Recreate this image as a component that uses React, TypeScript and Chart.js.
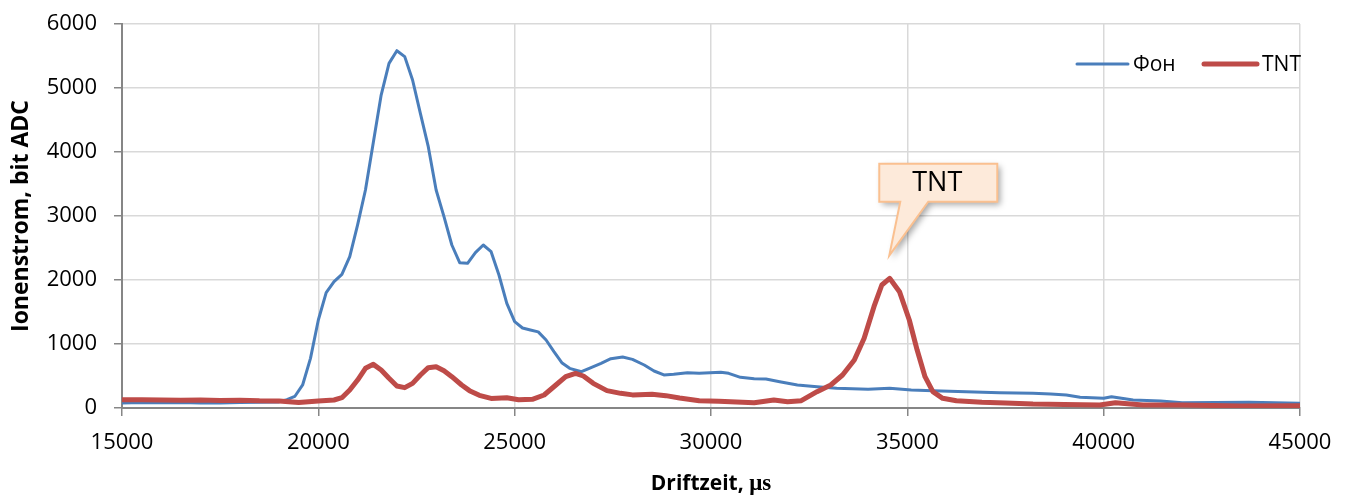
import React, { useEffect, useRef } from 'react';
import { Chart, registerables } from 'chart.js';

Chart.register(...registerables);

const seriesNames = ['Фон', 'TNT'];
const xTitle = 'Driftzeit, ';
const xTitleUnit = 'μs';
const yTitle = 'Ionenstrom, bit ADC';
const xMin = 15000;
const xMax = 45000;
const xStep = 5000;
const yMin = 0;
const yMax = 6000;
const yStep = 1000;

const fonTimes = [
  15000, 15500, 16000, 16500, 17000, 17500, 18000, 18500, 19000, 19200, 19400, 19600, 19800,
  20000, 20200, 20400, 20600, 20800, 21000, 21200, 21400, 21600, 21800, 22000, 22200, 22400,
  22600, 22800, 23000, 23200, 23400, 23600, 23800, 24000, 24200, 24400, 24600, 24800, 25000,
  25200, 25400, 25600, 25800, 26000, 26200, 26400, 26700, 26900, 27200, 27450, 27750, 28000,
  28300, 28550, 28800, 29050, 29400, 29700, 30250, 30450, 30750, 31100, 31400, 31750, 32200,
  32700, 33200, 34000, 34550, 35100, 35650, 36500, 37350, 38200, 38650, 39050, 39400, 40000,
  40200, 40750, 41450, 42000, 43700, 45000,
];
const fonValues = [
  80, 85, 82, 85, 78, 80, 85, 90, 95, 130, 180, 360, 776,
  1375, 1802, 1974, 2089, 2365, 2860, 3406, 4150, 4890, 5385, 5583, 5490, 5125,
  4600, 4083, 3406, 2990, 2547, 2271, 2260, 2427, 2547, 2443, 2078, 1635, 1349,
  1250, 1219, 1190, 1062, 880, 708, 620, 567, 620, 698, 770, 797, 760,
  672, 578, 516, 526, 552, 542, 557, 542, 479, 458, 453, 411, 359,
  333, 307, 292, 307, 281, 271, 255, 240, 229, 219, 203, 167, 151,
  177, 125, 109, 83, 89, 73,
];

const tntTimes = [
  15000, 15500, 16000, 16500, 17000, 17500, 18000, 18500, 19000, 19500, 20000, 20400, 20600,
  20800, 21000, 21200, 21400, 21600, 21800, 22000, 22200, 22400, 22600, 22800, 23000, 23200,
  23400, 23650, 23850, 24100, 24400, 24800, 25100, 25450, 25750, 26050, 26300, 26550, 26750,
  27000, 27350, 27700, 28000, 28500, 28850, 29200, 29700, 30200, 31100, 31600, 31950, 32300,
  32700, 33050, 33350, 33650, 33900, 34150, 34350, 34550, 34800, 35050, 35250, 35450, 35650,
  35900, 36250, 36900, 37500, 38200, 39000, 39900, 40300, 41000, 42000, 43500, 45000,
];
const tntValues = [
  130, 128, 125, 120, 125, 118, 122, 112, 110, 85, 109, 125, 161,
  281, 437, 620, 682, 594, 464, 344, 318, 385, 516, 630, 646, 583,
  490, 359, 271, 198, 150, 161, 130, 136, 203, 359, 489, 542, 500,
  385, 271, 229, 205, 214, 193, 156, 114, 104, 83, 125, 99, 114,
  255, 359, 516, 750, 1089, 1583, 1922, 2026, 1818, 1375, 906, 489, 255,
  151, 114, 89, 80, 63, 55, 47, 83, 47, 47, 31, 36,
];

const calloutText = 'TNT';
const calloutTime = 34540;
const calloutValue = 2380;

const FONT = '"Open Sans", "DejaVu Sans", sans-serif';
const BLUE = '#4A7EBB';
const RED = '#BE4B48';
const GRID = '#D9D9D9';
const AXIS = '#868686';

const overlayPlugin = {
  id: 'overlay',
  afterDraw(chart: any) {
    const { ctx, chartArea, scales } = chart;
    const xs = scales.x;
    const ys = scales.y;
    ctx.save();

    // Legend (inside plot, top-right)
    const ly = chartArea.top + 40;
    ctx.lineCap = 'round';
    ctx.font = `21px ${FONT}`;
    ctx.textBaseline = 'middle';
    ctx.textAlign = 'left';
    ctx.strokeStyle = BLUE;
    ctx.lineWidth = 3;
    ctx.beginPath();
    ctx.moveTo(chartArea.right - 223, ly);
    ctx.lineTo(chartArea.right - 172, ly);
    ctx.stroke();
    ctx.fillStyle = '#000';
    ctx.fillText(seriesNames[0], chartArea.right - 167, ly + 1);
    ctx.strokeStyle = RED;
    ctx.lineWidth = 5;
    ctx.beginPath();
    ctx.moveTo(chartArea.right - 96, ly);
    ctx.lineTo(chartArea.right - 43, ly);
    ctx.stroke();
    ctx.fillText(seriesNames[1], chartArea.right - 38, ly + 1);

    // Callout
    const tx = xs.getPixelForValue(calloutTime);
    const ty = ys.getPixelForValue(calloutValue);
    const bl = tx - 10;
    const br = tx + 108;
    const bt = ty - 92;
    const bb = ty - 54;
    const pathCallout = () => {
      ctx.beginPath();
      ctx.moveTo(bl, bt);
      ctx.lineTo(br, bt);
      ctx.lineTo(br, bb);
      ctx.lineTo(tx + 39, bb);
      ctx.lineTo(tx, ty);
      ctx.lineTo(tx + 11, bb);
      ctx.lineTo(bl, bb);
      ctx.closePath();
    };
    ctx.save();
    ctx.shadowColor = 'rgba(0,0,0,0.35)';
    ctx.shadowBlur = 6;
    ctx.shadowOffsetX = 3;
    ctx.shadowOffsetY = 3;
    pathCallout();
    ctx.fillStyle = '#FDEADA';
    ctx.fill();
    ctx.restore();
    pathCallout();
    ctx.lineJoin = 'miter';
    ctx.strokeStyle = '#FAC090';
    ctx.lineWidth = 2;
    ctx.stroke();
    ctx.fillStyle = '#000';
    ctx.font = `27px ${FONT}`;
    ctx.textAlign = 'center';
    ctx.textBaseline = 'middle';
    ctx.fillText(calloutText, (bl + br) / 2 - 1, (bt + bb) / 2 + 1);

    // X axis title with serif unit
    const f1 = `bold 21px ${FONT}`;
    const f2 = 'bold 23px "Liberation Serif", "DejaVu Serif", serif';
    ctx.font = f1;
    const w1 = ctx.measureText(xTitle).width;
    ctx.font = f2;
    const w2 = ctx.measureText(xTitleUnit).width;
    const cx = (chartArea.left + chartArea.right) / 2;
    const startX = cx - (w1 + w2) / 2;
    const by = 490;
    ctx.textAlign = 'left';
    ctx.textBaseline = 'alphabetic';
    ctx.font = f1;
    ctx.fillText(xTitle, startX, by);
    ctx.font = f2;
    ctx.fillText(xTitleUnit, startX + w1, by);

    ctx.restore();
  },
};

export default function App() {
  const canvasRef = useRef<HTMLCanvasElement | null>(null);

  useEffect(() => {
    if (!canvasRef.current) return;
    const fonData = fonTimes.map((t, i) => ({ x: t, y: fonValues[i] }));
    const tntData = tntTimes.map((t, i) => ({ x: t, y: tntValues[i] }));
    const chart = new Chart(canvasRef.current, {
      type: 'line',
      data: {
        datasets: [
          {
            label: seriesNames[0],
            data: fonData,
            borderColor: BLUE,
            backgroundColor: BLUE,
            borderWidth: 3,
            pointRadius: 0,
            tension: 0,
            borderJoinStyle: 'round',
            borderCapStyle: 'round',
            order: 2,
          },
          {
            label: seriesNames[1],
            data: tntData,
            borderColor: RED,
            backgroundColor: RED,
            borderWidth: 5,
            pointRadius: 0,
            tension: 0,
            borderJoinStyle: 'round',
            borderCapStyle: 'round',
            order: 1,
          },
        ],
      },
      options: {
        animation: false,
        responsive: true,
        maintainAspectRatio: false,
        parsing: false as any,
        layout: { padding: { top: 24, right: 46, left: 0, bottom: 0 } },
        plugins: {
          legend: { display: false },
          tooltip: { enabled: false },
          title: { display: false },
        },
        scales: {
          x: {
            type: 'linear',
            min: xMin,
            max: xMax,
            afterFit: (s: any) => {
              s.height = 87;
              s.paddingLeft = 0;
              s.paddingRight = 0;
            },
            ticks: {
              stepSize: xStep,
              color: '#000',
              font: { family: FONT, size: 22 },
              padding: 14,
              maxRotation: 0,
              callback: (v: any) => String(v),
            },
            grid: {
              color: GRID,
              lineWidth: 1.5,
              tickLength: 8,
              tickColor: AXIS,
            },
            border: { color: AXIS, width: 2 },
          },
          y: {
            type: 'linear',
            min: yMin,
            max: yMax,
            afterFit: (s: any) => {
              s.width = 122;
              s.paddingTop = 0;
              s.paddingBottom = 0;
            },
            ticks: {
              stepSize: yStep,
              color: '#000',
              font: { family: FONT, size: 22 },
              padding: 17,
              callback: (v: any) => String(v),
            },
            grid: {
              color: GRID,
              lineWidth: 1.5,
              tickLength: 8,
              tickColor: AXIS,
            },
            border: { color: AXIS, width: 2 },
            title: {
              display: true,
              text: yTitle,
              color: '#000',
              font: { family: FONT, size: 23, weight: 'bold' },
              padding: { top: 8, bottom: 0 },
            },
          },
        },
      },
      plugins: [overlayPlugin],
    });
    return () => chart.destroy();
  }, []);

  return (
    <div style={{ position: 'fixed', left: 0, top: 0, width: 1346, height: 495, background: '#fff' }}>
      <canvas ref={canvasRef} />
    </div>
  );
}
